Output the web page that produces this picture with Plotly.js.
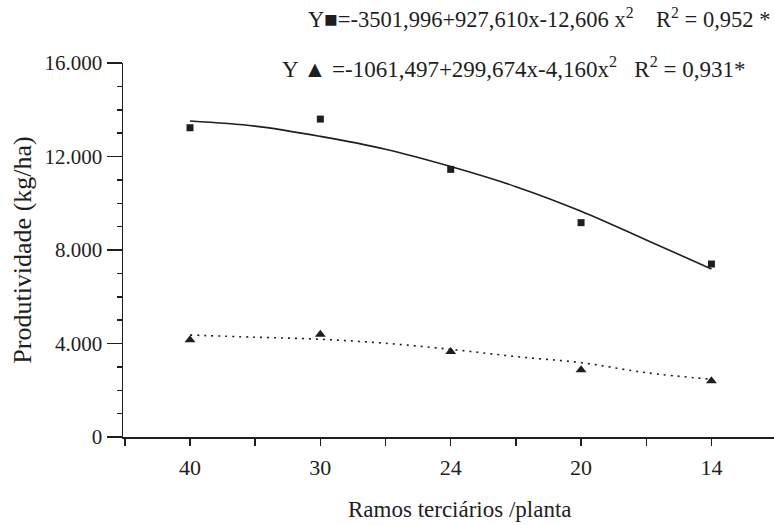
<!DOCTYPE html>
<html>
<head>
<meta charset="utf-8">
<script src="https://cdn.plot.ly/plotly-3.0.1.min.js"></script>
<style>html,body{margin:0;padding:0;background:#fff;}#chart{width:774px;height:525px;}</style>
</head>
<body>
<div id="chart"></div>
<script>
// Categories (x: tertiary branches per plant), shown in this order
const categories = ['40', '30', '24', '20', '14'];
const catPos = [0, 1, 2, 3, 4];

// Observed productivity (kg/ha)
const squareValues = [13230, 13600, 11450, 9170, 7400];
const triangleValues = [4150, 4390, 3650, 2870, 2400];

// Fitted curves (at categories and midpoints)
const fitPos = [0, 0.5, 1, 1.5, 2, 2.5, 3, 3.5, 4];
const squareFit = [13520, 13300, 12860, 12310, 11570, 10710, 9660, 8430, 7190];
const triangleFit = [4360, 4270, 4180, 4010, 3750, 3440, 3180, 2750, 2470];

// Y ticks
const yTickVals = [0, 4000, 8000, 12000, 16000];
const yTickText = ['0', '4.000', '8.000', '12.000', '16.000'];

const FONT = '"Liberation Serif", "Times New Roman", Times, serif';
const INK = '#1e1e1e';

const traces = [
  {x: fitPos, y: squareFit, mode: 'lines', line: {color: INK, width: 1.6, shape: 'spline'}, hoverinfo: 'skip'},
  {x: fitPos, y: triangleFit, mode: 'lines', line: {color: INK, width: 1.6, dash: '2px,5px', shape: 'spline'}, hoverinfo: 'skip'},
  {x: catPos, y: squareValues, mode: 'markers', marker: {symbol: 'square', size: 7, color: INK}},
  {x: catPos, y: triangleValues, mode: 'markers', marker: {symbol: 'triangle-up', size: 9.5, color: INK}}
];

const layout = {
  width: 774, height: 525,
  margin: {l: 123, r: 0, t: 63, b: 88},
  paper_bgcolor: '#fff', plot_bgcolor: '#fff',
  showlegend: false,
  font: {family: FONT, color: INK},
  xaxis: {
    range: [-0.514, 4.48],
    tickvals: catPos, ticktext: categories,
    showgrid: false, zeroline: false,
    showline: true, linecolor: INK, linewidth: 1.5,
    ticks: 'outside', ticklen: 7, tickwidth: 1.5, tickcolor: INK,
    ticklabelstandoff: 3,
    minor: {tickvals: [-0.5, 0.5, 1.5, 2.5, 3.5], ticks: 'outside', ticklen: 7, tickwidth: 1.5, tickcolor: INK, showgrid: false},
    tickfont: {family: FONT, size: 22, color: INK},
    fixedrange: true
  },
  yaxis: {
    range: [0, 16000],
    tickvals: yTickVals, ticktext: yTickText,
    showgrid: false, zeroline: false,
    showline: true, linecolor: INK, linewidth: 1.5,
    ticks: 'outside', ticklen: 15, tickwidth: 1.5, tickcolor: INK,
    minor: {dtick: 1000, ticks: 'outside', ticklen: 5, tickwidth: 1.5, tickcolor: INK, showgrid: false},
    tickfont: {family: FONT, size: 21, color: INK},
    title: {text: 'Produtividade (kg/ha)', font: {family: FONT, size: 26, color: INK}, standoff: 5},
    fixedrange: true
  },
  annotations: [
    // x-axis title
    {xref: 'paper', yref: 'paper', x: 0.5177, y: -0.195, xanchor: 'center', yanchor: 'middle', showarrow: false,
     text: 'Ramos terciários /planta', font: {family: FONT, size: 23, color: INK}},
    {xref: 'paper', yref: 'paper', x: 0.281, y: 1.12, xanchor: 'left', yanchor: 'middle', align: 'left', showarrow: false,
     text: 'Y■=-3501,996+927,610x-12,606 x<sup>2</sup>    R<sup>2</sup> = 0,952 *', font: {family: FONT, size: 22.5, color: INK}},
    {xref: 'paper', yref: 'paper', x: 0.241, y: 0.989, xanchor: 'left', yanchor: 'middle', align: 'left', showarrow: false,
     text: 'Y ▲ =-1061,497+299,674x-4,160x<sup>2</sup>   R<sup>2</sup> = 0,931*', font: {family: FONT, size: 23, color: INK}}
  ]
};

Plotly.newPlot('chart', traces, layout, {staticPlot: true, displayModeBar: false});
</script>
</body>
</html>
